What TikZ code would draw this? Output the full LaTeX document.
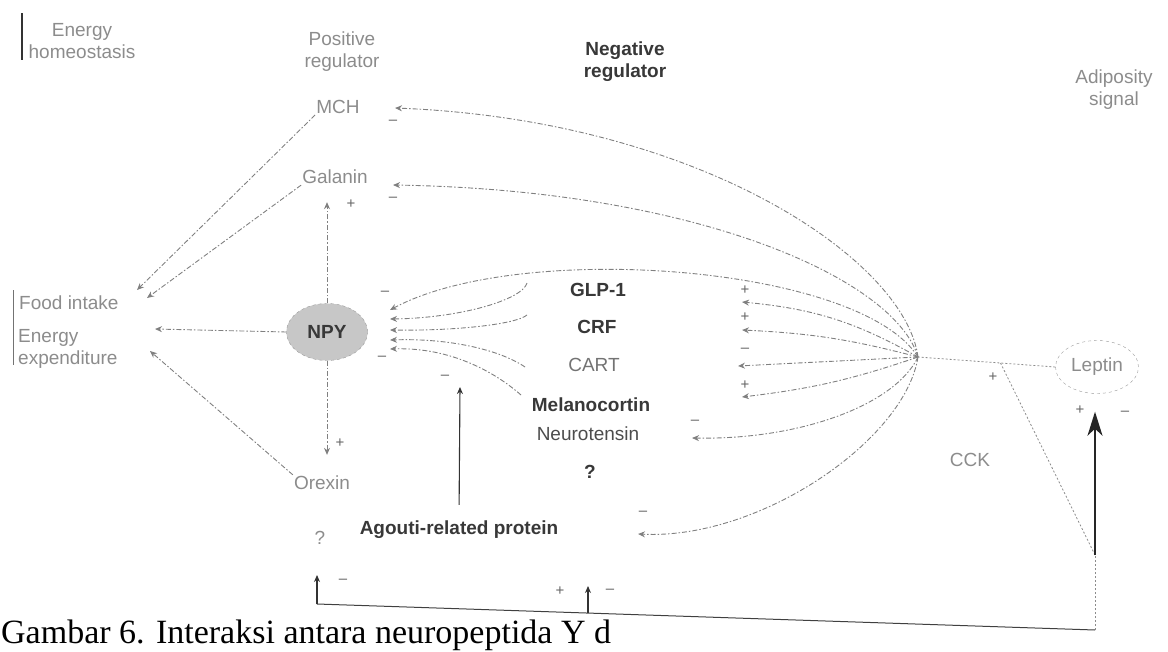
\documentclass[tikz,border=0pt]{standalone}
\usepackage{fontspec}
\setmainfont{Liberation Sans}
\newfontfamily\capfont{Liberation Serif}
\usetikzlibrary{arrows.meta,shapes.geometric}
\begin{document}
\begin{tikzpicture}[x=1pt,y=-1pt,
  every node/.style = {font=\fontsize{19}{22}\selectfont, text=black!45, align=center, inner sep=1pt},
  dark/.style = {text=black!78, font=\fontsize{19}{22}\selectfont\bfseries},
  sign/.style = {text=black!60, font=\fontsize{15}{15}\selectfont},
  link/.style = {draw=black!50, line width=0.9pt, dash pattern=on 5pt off 2pt on 1.5pt off 2pt, -{Stealth[length=7pt,width=6pt]}},
  tie/.style = {draw=black!45, line width=0.8pt, dash pattern=on 2pt off 2pt},
  push/.style = {draw=black!80, line width=1.1pt, -{Stealth[length=7pt,width=6pt]}}]

  \useasboundingbox (0,0) rectangle (1168,651);

  \node (homeo) at (82,41) {Energy\\homeostasis};
  \node (posreg) at (342,52) {Positive\\regulator};
  \node[dark] (negreg) at (625,62) {Negative\\regulator};
  \node (adipo) at (1114,90) {Adiposity\\signal};
  \node (mch) at (338,107) {MCH};
  \node (gal) at (335,177) {Galanin};
  \node[ellipse, dark, fill=black!22, draw=black!40, dashed, minimum width=81pt, minimum height=57pt] (npy) at (327,332) {NPY};
  \node (orexin) at (322,483) {Orexin};
  \node (q1) at (320,538) {?};
  \node[anchor=west] (food) at (18,303) {Food intake};
  \node[anchor=west, align=left] (expend) at (17,349) {Energy\\expenditure};
  \node[dark] (glp) at (598,290) {GLP-1};
  \node[dark] (crf) at (597,327) {CRF};
  \node[text=black!55] (cart) at (594,365) {CART};
  \node[dark] (melano) at (591,405) {Melanocortin};
  \node[text=black!70] (neuro) at (588,434) {Neurotensin};
  \node[dark] (q2) at (590,472) {?};
  \node[dark] (agrp) at (459,530) {Agouti-related protein};
  \node[ellipse, draw=black!40, dashed, minimum width=83pt, minimum height=53pt] (leptin) at (1097,367) {Leptin};
  \node (cck) at (970,460) {CCK};
  \node[anchor=base west, font=\capfont\fontsize{34}{34}\selectfont, text=black] (caption) at (0,643) {Gambar 6. Interaksi antara neuropeptida Y d};

  \coordinate (hub) at (918,357);
  \coordinate (fedA) at (137,290);
  \coordinate (fedB) at (147,298);
  \coordinate (fedC) at (155,329);
  \coordinate (fedD) at (150,351);
  \coordinate (mchin) at (395,108);
  \coordinate (galin) at (393,185);
  \foreach \i/\y in {1/310,2/319,3/330,4/340,5/349}
    \coordinate (npyin\i) at (390,\y);
  \coordinate (glpout) at (527,283);
  \coordinate (crfout) at (527,315);
  \coordinate (cartout) at (525,367);
  \coordinate (melout) at (521,395);
  \coordinate (glpin) at (742,302);
  \coordinate (crfin) at (742,330);
  \coordinate (cartin) at (738,366);
  \coordinate (melin) at (742,397);
  \coordinate (neuin) at (692,438);
  \coordinate (agrpin) at (638,534);
  \coordinate (agrpup) at (460,387);
  \coordinate (busL) at (317,604);
  \coordinate (busM) at (588,613);
  \coordinate (busR) at (1095,630);
  \coordinate (busJ) at (1095,555);
  \coordinate (upL) at (317,575);
  \coordinate (upM) at (588,586);
  \coordinate (cckJ) at (1000,362);

  \draw[black!80, line width=1.3pt] (22,13) -- (22,60);
  \draw[black!55, line width=1pt] (13,290) -- (13,365);

  \draw[link] (mch.south west) -- (fedA);
  \draw[link] (gal.south west) -- (fedB);
  \draw[link] (npy.west) -- (fedC);
  \draw[link] (orexin.north west) -- (fedD);
  \draw[link, shorten >=17pt] (npy.north) -- (npy.north |- gal.south);
  \draw[link, shorten >=20pt] (npy.south) -- (npy.south |- orexin.north);
  \draw[tie] (leptin.west) -- (hub);
  \draw[link] (hub) .. controls (905,260) and (700,120) .. (mchin);
  \draw[link] (hub) .. controls (895,280) and (700,190) .. (galin);
  \draw[link] (hub) .. controls (860,265) and (520,240) .. (npyin1);
  \draw[link] (glpout) .. controls (522,300) and (460,318) .. (npyin2);
  \draw[link] (crfout) .. controls (515,325) and (450,331) .. (npyin3);
  \draw[link] (cartout) .. controls (500,350) and (450,338) .. (npyin4);
  \draw[link] (melout) .. controls (495,372) and (450,347) .. (npyin5);
  \draw[link] (hub) to[bend right=12] (glpin);
  \draw[link] (hub) to[bend right=6] (crfin);
  \draw[link] (hub) -- (cartin);
  \draw[link] (hub) to[bend left=6] (melin);
  \draw[link] (hub) .. controls (895,405) and (800,440) .. (neuin);
  \draw[link] (hub) .. controls (905,440) and (760,540) .. (agrpin);
  \draw[push, shorten <=15pt] (agrp.north) -- (agrpup);
  \draw[black!75, line width=1pt] (busL) -- (busR);
  \draw[push] (busL) -- (upL);
  \draw[push] (busM) -- (upM);
  \draw[tie] (busR) -- (busJ);
  \draw[tie] (busJ) -- (cckJ);
  \draw[draw=black!85, line width=1.8pt, -{Stealth[length=24pt,width=15pt,inset=7pt]}, shorten >=18pt] (busJ) -- (busJ |- leptin.south);

  \foreach \x/\y/\s [count=\k] in {393/122/--, 393/199/--, 351/204/+, 340/443/+, 385/293/--, 382/358/--, 445/377/--,
      745/290/+, 745/317/+, 745/350/--, 745/385/+, 695/422/--, 643/513/--, 993/377/+,
      1080/410/+, 1125/413/--, 343/581/--, 560/591/+, 610/591/--}
    \node[sign] (sign\k) at (\x,\y) {\s};
\end{tikzpicture}
\end{document}
